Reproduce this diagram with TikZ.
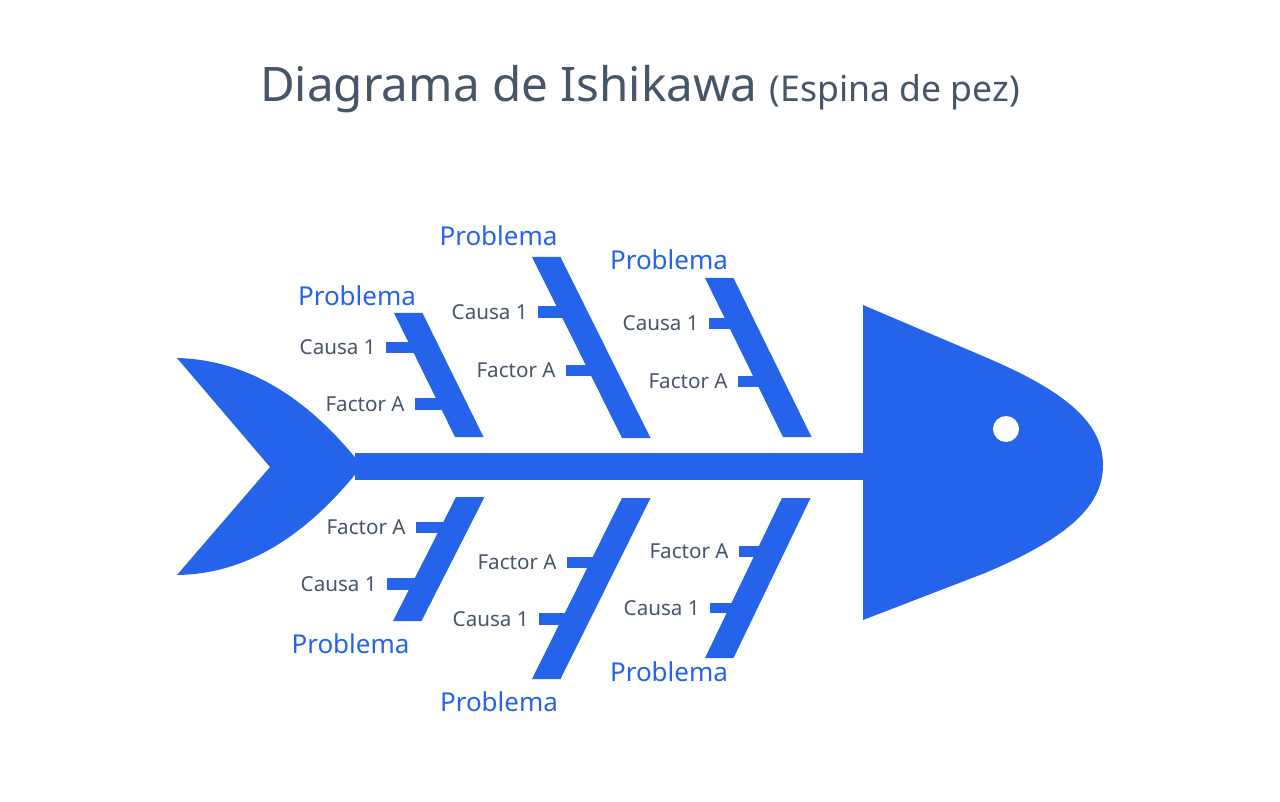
\documentclass[tikz,border=0pt]{standalone}
\usepackage{fontspec}
\setmainfont{Noto Sans}
\definecolor{fishblue}{HTML}{2563EB}
\definecolor{slate}{HTML}{475569}
\tikzset{
  problema/.style={text=fishblue,font=\fontsize{13}{15}\selectfont,inner sep=0pt,anchor=base},
  causa/.style={text=slate,font=\fontsize{10.3}{12}\selectfont,inner sep=0pt,anchor=east},
}

\begin{document}
\begin{tikzpicture}[x=0.5pt,y=-0.5pt]
  \useasboundingbox[fill=white] (0,0) rectangle (1280,802);
  % title
  \node[text=slate,anchor=base,inner sep=0pt] (titulo) at (640,102)
    {\fontsize{23.8}{28}\selectfont Diagrama de Ishikawa \fontsize{17.8}{21}\selectfont(Espina de pez)};
  % tail, spine and head
  \fill[fishblue] (177,358) .. controls (250,360) and (310,400) .. (362,466)
    .. controls (310,532) and (250,574) .. (177,575) -- (270,467) -- cycle;
  \fill[fishblue] (355,453) rectangle (866,480);
  \fill[fishblue] (863,305) -- (985,357) .. controls (1070,393) and (1103,425) .. (1103,465)
    .. controls (1103,505) and (1070,537) .. (985,573) -- (863,620) -- cycle;
  \fill[white] (1006,429) circle (6.5pt);
  % bones
  \foreach \xf/\yf/\xb/\yb in {394/313/455/437, 532/257/622/438, 705/278/783/437,
                               456/497/393/621, 622/498/532/679, 782/498/705/658}
    \fill[fishblue] (\xf,\yf) -- (\xf+28.5,\yf) -- (\xb+28.5,\yb) -- (\xb,\yb) -- cycle;
  % small bones with their labels
  \foreach \x/\yt/\yb/\t/\n in {386/342/353/Causa 1/ulc, 415/398/410/Factor A/ulf,
                                538/306/318/Causa 1/umc, 566/365/376/Factor A/umf,
                                709/318/329/Causa 1/urc, 738/376/387/Factor A/urf,
                                416/522/533/Factor A/llf, 387/578/590/Causa 1/llc,
                                567/557/568/Factor A/lmf, 539/613/625/Causa 1/lmc,
                                739/546/557/Factor A/lrf, 710/603/613/Causa 1/lrc} {
    \fill[fishblue] (\x,\yt) rectangle (\x+32,\yb);
    \node[causa] (\n) at (\x-10,{(\yt+\yb)/2}) {\t};
  }
  % problems
  \foreach \x/\y/\n in {357/306/pul, 498.5/246/pum, 669/270/pur,
                        350.5/653/pll, 499/711/plm, 669/681/plr}
    \node[problema] (\n) at (\x,\y) {Problema};
\end{tikzpicture}
\end{document}
